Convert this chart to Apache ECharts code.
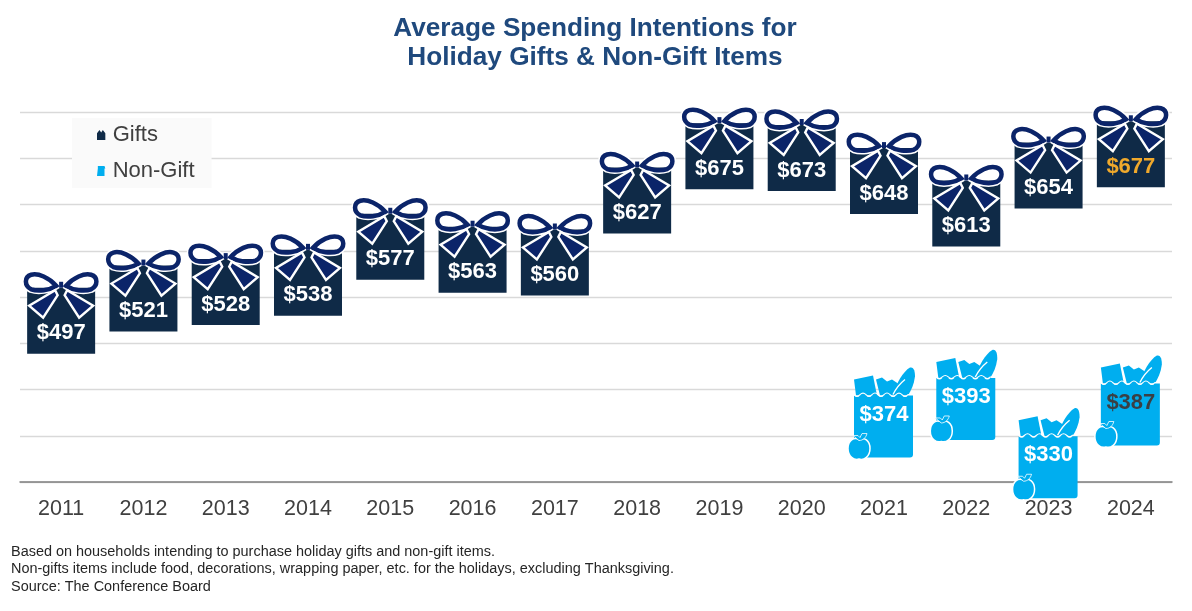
<!DOCTYPE html>
<html><head><meta charset="utf-8">
<style>html,body{margin:0;padding:0;background:#fff}#c{width:1192px;height:611px}</style>
<script src="https://cdn.jsdelivr.net/npm/echarts@6/dist/echarts.min.js"></script>
</head><body><div id="c"></div>
<script>
const years = ['2011','2012','2013','2014','2015','2016','2017','2018','2019','2020','2021','2022','2023','2024'];
const gifts = [497,521,528,538,577,563,560,627,675,673,648,613,654,677];
const nonGift = [null,null,null,null,null,null,null,null,null,null,374,393,330,387];
const titleText = 'Average Spending Intentions for\nHoliday Gifts & Non-Gift Items';
const noteText = 'Based on households intending to purchase holiday gifts and non-gift items.\nNon-gifts items include food, decorations, wrapping paper, etc. for the holidays, excluding Thanksgiving.\nSource: The Conference Board';

const BOX='#0f2a47', BOW='#0b2469', BAG='#00aeef', WHITE='#fff';
const LOOP='M-5 -14 C-12 -22 -23 -27 -30 -25 C-37 -23 -37 -14 -30 -10.5 C-23 -8 -12 -9.5 -5 -14 Z';
const SLIVER='M-33 -12 L-9 -12 C-15 -9 -24 -8 -30 -10 Z';
const TAIL='M-6 -9.5 L-32 6 L-18 18 L-3.5 -4.5 Z';
const LABEL_FONT='bold 22px "Liberation Sans", Arial, sans-serif';

function bowSide(sx){
  return {type:'group',scaleX:sx,children:[
    {type:'path',shape:{pathData:LOOP},style:{fill:WHITE,stroke:WHITE,lineWidth:7.5}},
    {type:'path',shape:{pathData:SLIVER},style:{fill:BOX}},
    {type:'path',shape:{pathData:LOOP},style:{fill:'none',stroke:BOW,lineWidth:4.5}},
    {type:'path',shape:{pathData:TAIL},style:{fill:BOW,stroke:WHITE,lineWidth:2.4,lineJoin:'miter'}}
  ]};
}
function renderGift(params,api){
  const i=api.value(0), v=api.value(1);
  const p=api.coord([i,v]);
  const last=i===years.length-1;
  return {type:'group',x:p[0],y:p[1],children:[
    {type:'rect',shape:{x:-34,y:-12,width:68,height:66},style:{fill:BOX}},
    bowSide(1),bowSide(-1),
    {type:'rect',shape:{x:-2,y:-18,width:4,height:6},style:{fill:BOW}},
    {type:'text',x:0,y:33.5,style:{text:'$'+v,fill:last?'#f0a92c':WHITE,font:LABEL_FONT,align:'center',verticalAlign:'middle'}}
  ]};
}
function renderBag(params,api){
  const i=api.value(0), v=api.value(1);
  const p=api.coord([i,v]);
  const last=i===years.length-1;
  const f={fill:BAG};
  return {type:'group',x:p[0],y:p[1],children:[
    {type:'path',shape:{pathData:'M-30 -34 L-11 -38 L-7 -18 L-28 -18 Z'},style:f},
    {type:'path',shape:{pathData:'M-8 -34 L-2 -36 L3 -32 L8 -34 L14 -30 L10 -18 L-4 -18 Z'},style:f},
    {type:'path',shape:{pathData:'M9 -18 C12 -30 19 -42 26 -46 C30 -47 31 -42 31 -37 C30 -29 27 -23 24 -18 Z'},style:f},
    {type:'path',shape:{pathData:'M9 -19 C12 -25 16 -30 21 -34'},style:{fill:'none',stroke:WHITE,lineWidth:1.4}},
    {type:'path',shape:{pathData:'M-30 -18 Q-27 -15 -24 -18 T-18 -18 T-12 -18 T-6 -18 T0 -18 T6 -18 T12 -18 T18 -18 T24 -18 L29 -18 L29 41 Q29 44 26 44 L-27 44 Q-30 44 -30 41 Z'},style:f},
    {type:'path',shape:{pathData:'M-30 -19 Q-27 -16 -24 -19 T-18 -19 T-12 -19 T-6 -19 T0 -19 T6 -19 T12 -19 T18 -19 T24 -19 L29 -19'},style:{fill:'none',stroke:WHITE,lineWidth:1.1}},
    {type:'path',shape:{pathData:'M-25 26 C-30 23 -36 27 -36 35 C-36 43 -30 47 -25 45.5 C-20 47 -14 43 -14 35 C-14 27 -20 23 -25 26 Z'},style:{fill:BAG,stroke:WHITE,lineWidth:1.5}},
    {type:'path',shape:{pathData:'M-25 27 L-31 22 L-26 22 L-24 24 L-22 20 L-17 20 C-18 24 -21 27 -25 27 Z'},style:{fill:BAG,stroke:WHITE,lineWidth:0.8}},
    {type:'text',x:0,y:1,style:{text:'$'+v,fill:last?'#3a3f44':WHITE,font:LABEL_FONT,align:'center',verticalAlign:'middle'}}
  ]};
}
const FONT='"Liberation Sans", Arial, sans-serif';
const chart=echarts.init(document.getElementById('c'),null,{renderer:'canvas'});
chart.setOption({
  animation:false,
  backgroundColor:'#fff',
  title:[
    {text:titleText,left:590,textAlign:'center',top:9,textStyle:{fontFamily:FONT,fontSize:26.2,fontWeight:'bold',color:'#1f497d',lineHeight:29.5}},
    {text:noteText,left:6,top:538,textStyle:{fontFamily:FONT,fontSize:14.45,fontWeight:'normal',color:'#262626',lineHeight:17.5}}
  ],
  legend:{orient:'vertical',left:72,top:118,padding:[6,17,6,25],itemGap:14,itemWidth:9,itemHeight:10,
    backgroundColor:'#fafafa',
    textStyle:{fontFamily:FONT,fontSize:22,color:'#404040',padding:[2,0,0,2]},
    data:[
      {name:'Gifts',icon:'path://M0 4 L3 0 L5 3 L7 0 L10 4 L10 12 L0 12 Z'},
      {name:'Non-Gift',icon:'path://M1 0 L9 0 L10 3 L9 3 L9 12 L0 12 L1 3 Z'}
    ]},
  grid:{left:20,right:20,top:112,bottom:129,containLabel:false},
  xAxis:{type:'category',data:years,boundaryGap:true,
    axisTick:{show:false},
    axisLine:{lineStyle:{color:'#7f7f7f',width:1.5}},
    axisLabel:{fontFamily:FONT,fontSize:21.5,color:'#404040',margin:16}},
  yAxis:{type:'value',min:300,max:700,interval:50,
    axisLabel:{show:false},axisLine:{show:false},axisTick:{show:false},
    splitLine:{lineStyle:{color:'#d9d9d9',width:1.3}}},
  series:[
    {name:'Gifts',type:'custom',renderItem:renderGift,itemStyle:{color:BOX},
      data:gifts.map((v,i)=>[i,v])},
    {name:'Non-Gift',type:'custom',renderItem:renderBag,itemStyle:{color:BAG},
      data:nonGift.map((v,i)=>[i,v]).filter(d=>d[1]!==null)}
  ]
});
</script></body></html>
